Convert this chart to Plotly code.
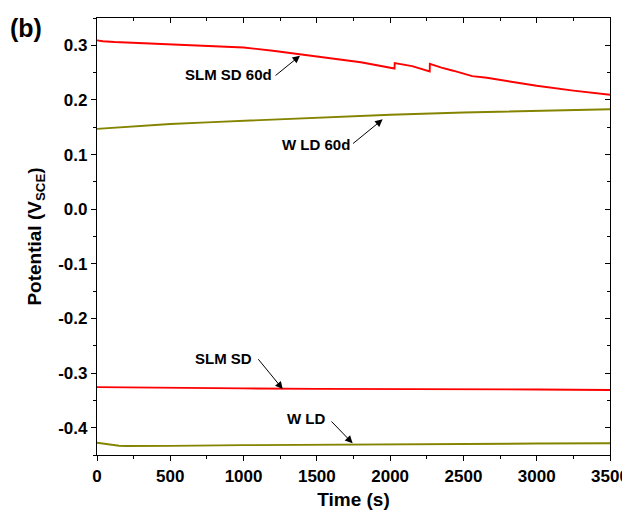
import plotly.graph_objects as go

# ---- data ----
t_slm60 = [0, 40, 120, 300, 500, 700, 1000, 1200, 1400, 1600, 1800, 2030, 2031, 2150, 2270, 2271, 2350,
           2430, 2560, 2660, 2860, 3000, 3250, 3500]
v_slm60 = [0.309, 0.3075, 0.306, 0.304, 0.302, 0.2995, 0.296, 0.290, 0.283, 0.276, 0.269, 0.2575, 0.2675,
           0.262, 0.252, 0.266, 0.259, 0.2535, 0.2435, 0.2405, 0.2315, 0.226, 0.217, 0.2095]

t_wld60 = [0, 250, 500, 750, 1000, 1500, 2000, 2500, 3000, 3500]
v_wld60 = [0.147, 0.152, 0.156, 0.159, 0.162, 0.168, 0.173, 0.177, 0.180, 0.183]

t_slm = [0, 300, 600, 1000, 1500, 2000, 2500, 3000, 3500]
v_slm = [-0.3257, -0.326, -0.327, -0.328, -0.329, -0.329, -0.3295, -0.330, -0.331]

t_wld = [0, 50, 100, 150, 200, 300, 500, 1000, 1500, 2000, 2500, 2600, 3000, 3500]
v_wld = [-0.4275, -0.4295, -0.4315, -0.433, -0.4335, -0.4338, -0.4333, -0.432, -0.431, -0.4305,
         -0.430, -0.4295, -0.429, -0.4285]

x_ticks = [0, 500, 1000, 1500, 2000, 2500, 3000, 3500]
y_ticks = [-0.4, -0.3, -0.2, -0.1, 0.0, 0.1, 0.2, 0.3]
y_tick_labels = ["-0.4", "-0.3", "-0.2", "-0.1", "0.0", "0.1", "0.2", "0.3"]

# annotation labels: (text, text_x, text_y, tail_x, tail_y, tip_x, tip_y)
labels = [
    ("SLM SD 60d", 897, 0.2463, 1208, 0.2425, 1385, 0.281),
    ("W LD 60d", 1494, 0.118, 1737, 0.118, 1949, 0.1645),
    ("SLM SD", 866, -0.2738, 1092, -0.2719, 1267, -0.3293),
    ("W LD", 1429, -0.384, 1590, -0.3859, 1744, -0.4286),
]

RED = "#FF0000"
OLIVE = "#848400"
FONT = "Liberation Sans"

fig = go.Figure()
for tx, vy, col in [(t_slm60, v_slm60, RED), (t_wld60, v_wld60, OLIVE),
                    (t_slm, v_slm, RED), (t_wld, v_wld, OLIVE)]:
    fig.add_trace(go.Scatter(x=tx, y=vy, mode="lines", line=dict(color=col, width=1.9),
                             showlegend=False, hoverinfo="skip"))
# dummy trace for mirrored inward ticks
fig.add_trace(go.Scatter(x=[], y=[], xaxis="x2", yaxis="y2", showlegend=False))

for text, tx, ty, ax, ay, px, py in labels:
    fig.add_annotation(x=tx, y=ty, text=text, showarrow=False,
                       font=dict(family=FONT, size=15, color="black", weight="bold"))
    fig.add_annotation(x=px, y=py, ax=ax, ay=ay, axref="x", ayref="y", text="",
                       showarrow=True, arrowhead=2, arrowsize=1.5, arrowwidth=1, arrowcolor="black")

fig.add_annotation(xref="paper", yref="paper", x=-0.139, y=0.977, text="(b)", showarrow=False,
                   xanchor="center", yanchor="middle",
                   font=dict(family=FONT, size=25, color="black", weight="bold"))

xr = [0, 3500]
yr = [-0.45, 0.35]
tickfont = dict(family=FONT, size=17, color="black", weight="bold")

# page body has an 8px margin, so the figure is sized to fit inside the 630x510 window
fig.update_layout(
    width=622, height=502,
    margin=dict(l=89, r=20, t=10, b=55),
    paper_bgcolor="white", plot_bgcolor="white",
    xaxis=dict(range=xr, tickvals=x_ticks, ticks="outside", ticklen=5, tickwidth=1.2,
               tickcolor="black", showline=True, linecolor="black", linewidth=1.3, mirror=True,
               showgrid=False, zeroline=False, tickfont=tickfont, automargin=False,
               minor=dict(dtick=250, ticks="outside", ticklen=3, tickwidth=1, tickcolor="black"),
               title=dict(text="Time (s)", standoff=9,
                          font=dict(family=FONT, size=19, color="black", weight="bold"))),
    yaxis=dict(range=yr, tickvals=y_ticks, ticktext=y_tick_labels, ticks="outside", ticklen=5,
               tickwidth=1.2, tickcolor="black", showline=True, linecolor="black", linewidth=1.3,
               mirror=True, showgrid=False, zeroline=False, tickfont=tickfont, automargin=False,
               minor=dict(dtick=0.05, tick0=0, ticks="outside", ticklen=3, tickwidth=1, tickcolor="black"),
               title=dict(text="Potential (V<sub>SCE</sub>)", standoff=11,
                          font=dict(family=FONT, size=19, color="black", weight="bold"))),
    xaxis2=dict(range=xr, overlaying="x", side="top", anchor="y", tickvals=x_ticks, ticks="inside",
                ticklen=5, tickwidth=1.2, tickcolor="black", showticklabels=False, showgrid=False,
                zeroline=False, showline=False, automargin=False,
                minor=dict(dtick=250, ticks="inside", ticklen=3, tickwidth=1, tickcolor="black")),
    yaxis2=dict(range=yr, overlaying="y", side="right", anchor="x", tickvals=y_ticks, ticks="inside",
                ticklen=5, tickwidth=1.2, tickcolor="black", showticklabels=False, showgrid=False,
                zeroline=False, showline=False, automargin=False,
                minor=dict(dtick=0.05, tick0=0, ticks="inside", ticklen=3, tickwidth=1, tickcolor="black")),
)

fig.write_html("out.html")
